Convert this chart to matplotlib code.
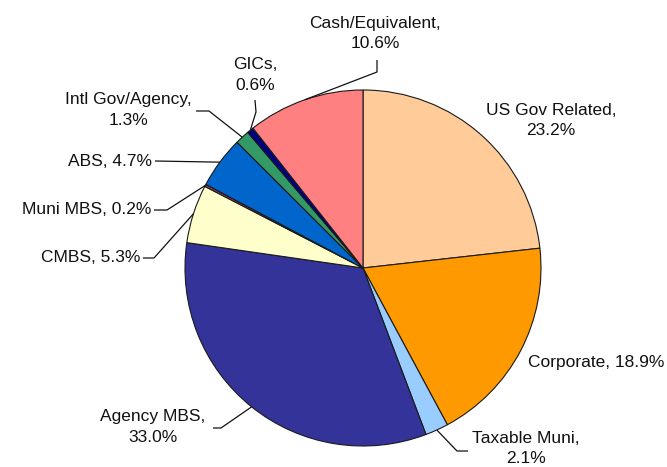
import matplotlib
matplotlib.use("Agg")
import numpy as np
import matplotlib.pyplot as plt

# Portfolio sector allocation (%)
categories = ["US Gov Related", "Corporate", "Taxable Muni", "Agency MBS", "CMBS",
              "Muni MBS", "ABS", "Intl Gov/Agency", "GICs", "Cash/Equivalent"]
shares = [23.2, 18.9, 2.1, 33.0, 5.3, 0.2, 4.7, 1.3, 0.6, 10.6]
colors = ["#FFCC99", "#FF9900", "#99CCFF", "#333399", "#FFFFCC",
          "#993366", "#0066CC", "#339966", "#000080", "#FF8080"]

plt.rcParams["font.family"] = ["Liberation Sans", "DejaVu Sans"]

W, H = 667, 467
fig = plt.figure(figsize=(W / 100, H / 100), dpi=100)
ax = fig.add_axes([0, 0, 1, 1])

CX, CY, R = 363, 268, 178  # centre and radius in pixels (y measured from top)


def fy(y):
    return H - y


wedges, _ = ax.pie(shares, colors=colors, startangle=90, counterclock=False,
                   center=(CX, fy(CY)), radius=R,
                   wedgeprops=dict(edgecolor="#1a1a1a", linewidth=0.8))
ax.set_xlim(0, W)
ax.set_ylim(0, H)
ax.set_aspect("equal")
ax.axis("off")

# label placement: text position, alignment, two-line?, leader path (from pie edge)
layout = {
    "US Gov Related": dict(xy=(551, 120.5), ha="center", two=True, path=None),
    "Corporate": dict(xy=(528, 363), ha="left", two=False, path=None),
    "Taxable Muni": dict(xy=(526, 448.5), ha="center", two=True, path=[(457, 451), (468, 451)]),
    "Agency MBS": dict(xy=(153, 427), ha="center", two=True, path=[(221, 428), (213, 428)]),
    "CMBS": dict(xy=(140, 258), ha="right", two=False, path=[(154, 258), (143, 258)]),
    "Muni MBS": dict(xy=(151, 210), ha="right", two=False, path=[(167, 210), (154, 210)]),
    "ABS": dict(xy=(152, 161), ha="right", two=False, path=[(155, 161)]),
    "Intl Gov/Agency": dict(xy=(128, 110), ha="center", two=True, path=[(209, 111), (196, 111)]),
    "GICs": dict(xy=(255, 75), ha="center", two=True, path=[(256, 112), (255, 100)]),
    "Cash/Equivalent": dict(xy=(375, 33.5), ha="center", two=True, path=[(377, 72), (377, 60)]),
}

for wedge, name, val in zip(wedges, categories, shares):
    spec = layout[name]
    sep = ",\n" if spec["two"] else ", "
    label = f"{name}{sep}{val:.1f}%"
    tx, ty = spec["xy"]
    ax.text(tx, fy(ty), label, ha=spec["ha"], va="center", fontsize=12.5,
            color="#111111", multialignment="center", linespacing=1.45)
    if spec["path"]:
        mid = np.deg2rad((wedge.theta1 + wedge.theta2) / 2)
        ex = CX + R * np.cos(mid)
        ey = fy(CY) + R * np.sin(mid)
        xs = [ex] + [p[0] for p in spec["path"]]
        ys = [ey] + [fy(p[1]) for p in spec["path"]]
        ax.plot(xs, ys, color="#111111", linewidth=0.9, solid_capstyle="butt")

fig.savefig("out.png", dpi=100)
